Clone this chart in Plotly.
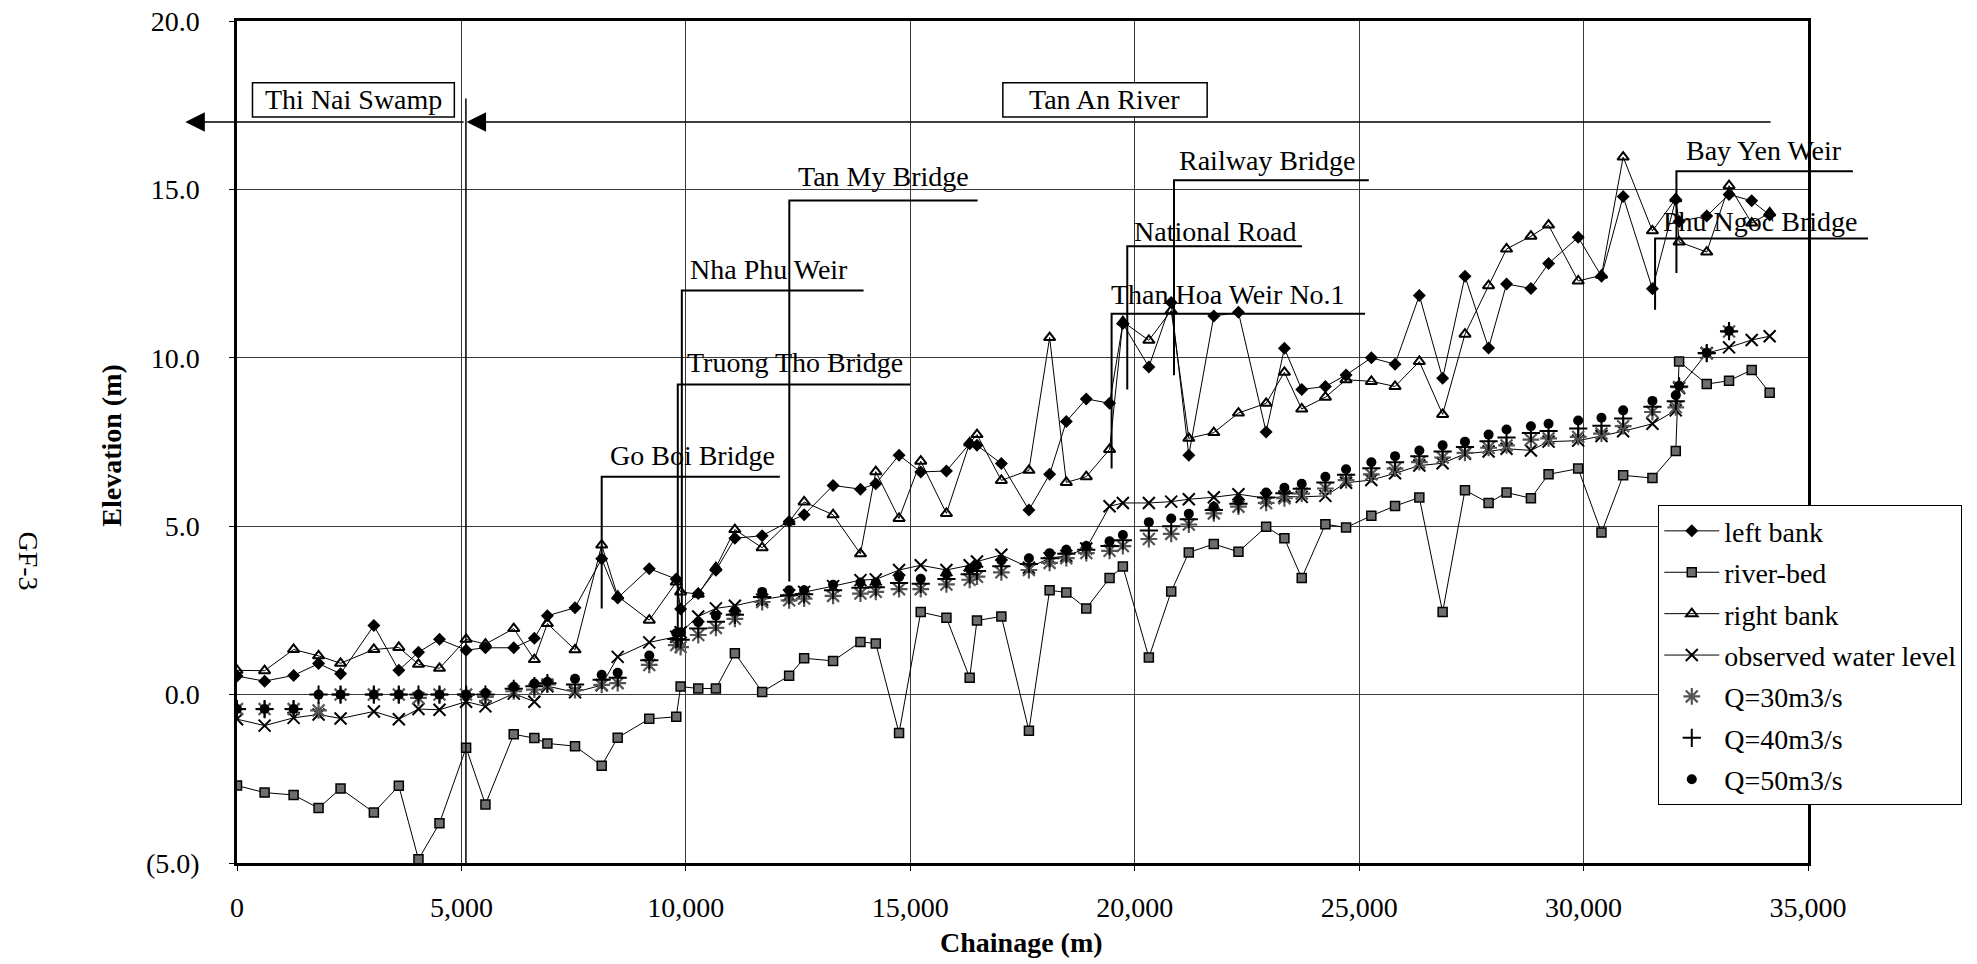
import plotly.graph_objects as go

# ---------------- data ----------------
chainage = [0, 615, 1261, 1817, 2307, 3049, 3605, 4043, 4511, 5104, 5535, 6165, 6625, 6915,
            7531, 8125, 8481, 9185, 9786, 9883, 10276, 10669, 11092, 11700, 12301, 12635,
            13280, 13890, 14231, 14750, 15233, 15805, 16323, 16486, 17029, 17643, 18104,
            18476, 18921, 19440, 19736, 20315, 20813, 21205, 21762, 22311, 22928, 23335,
            23721, 24248, 24709, 25272, 25800, 26341, 26860, 27358, 27884, 28284, 28827,
            29220, 29880, 30399, 30882, 31534, 32054, 32128, 32744, 33241, 33746, 34146]

left_bank = [0.55, 0.40, 0.57, 0.92, 0.62, 2.05, 0.72, 1.26, 1.64, 1.32,
             1.39, 1.39, 1.67, 2.34, 2.58, 4.03, 2.87, 3.74, 3.43, 2.54,
             3.00, 3.69, 4.64, 4.72, 5.14, 5.34, 6.21, 6.10, 6.26, 7.11,
             6.61, 6.64, 7.45, 7.40, 6.86, 5.48, 6.54, 8.11, 8.78, 8.65,
             11.02, 9.73, 11.64, 7.11, 11.24, 11.35, 7.80, 10.28, 9.06, 9.15,
             9.49, 10.00, 9.81, 11.85, 9.39, 12.42, 10.29, 12.19, 12.06, 12.80,
             13.58, 12.42, 14.79, 12.05, 14.70, 14.05, 14.21, 14.85, 14.66, 14.24]

river_bed = [-2.70, -2.91, -2.98, -3.37, -2.79, -3.50, -2.71, -4.89, -3.82, -1.58,
             -3.26, -1.18, -1.29, -1.45, -1.53, -2.11, -1.28, -0.72, -0.66, 0.24,
             0.18, 0.18, 1.23, 0.08, 0.56, 1.08, 1.00, 1.56, 1.52, -1.14,
             2.45, 2.28, 0.50, 2.20, 2.32, -1.07, 3.10, 3.03, 2.56, 3.46,
             3.80, 1.10, 3.06, 4.22, 4.47, 4.24, 4.98, 4.64, 3.46, 5.06,
             4.96, 5.31, 5.60, 5.85, 2.45, 6.07, 5.69, 6.00, 5.83, 6.54,
             6.71, 4.81, 6.51, 6.43, 7.23, 9.89, 9.22, 9.32, 9.64, 8.96]

right_bank = [0.72, 0.71, 1.34, 1.15, 0.93, 1.34, 1.40, 0.90, 0.78, 1.64,
              1.50, 1.96, 1.04, 2.11, 1.33, 4.44, 2.92, 2.21, 3.34, 3.05,
              2.98, 3.77, 4.90, 4.36, 5.13, 5.72, 5.34, 4.18, 6.62, 5.23,
              6.93, 5.38, 7.47, 7.72, 6.36, 6.66, 10.60, 6.30, 6.47, 7.28,
              11.07, 10.52, 11.40, 7.61, 7.78, 8.36, 8.65, 9.57, 8.48, 8.83,
              9.35, 9.30, 9.15, 9.89, 8.32, 10.70, 12.14, 13.23, 13.61, 13.94,
              12.28, 12.45, 15.96, 13.77, 14.72, 13.44, 13.14, 15.11, 14.00, 14.30]

observed = [-0.73, -0.92, -0.69, -0.59, -0.71, -0.50, -0.73, -0.43, -0.45, -0.21,
            -0.35, 0.03, -0.21, 0.25, 0.07, 0.28, 1.12, 1.55, 1.72, 1.85,
            2.32, 2.56, 2.64, 2.82, 2.95, 3.05, 3.22, 3.40, 3.42, 3.70,
            3.84, 3.70, 3.84, 3.95, 4.15, 3.77, 4.05, 4.12, 4.34, 5.59,
            5.69, 5.69, 5.73, 5.80, 5.86, 5.95, 5.83, 5.88, 5.87, 5.90,
            6.29, 6.37, 6.57, 6.80, 6.87, 7.15, 7.22, 7.30, 7.25, 7.51,
            7.54, 7.68, 7.82, 8.04, 8.44, 9.10, 10.14, 10.31, 10.53, 10.64]

q30 = [-0.43, -0.43, -0.43, -0.47, 0.00, 0.00, 0.00, -0.10, 0.00, 0.00,
       -0.07, 0.10, 0.15, 0.30, 0.13, 0.29, 0.34, 0.88, 1.47, 1.41,
       1.77, 1.98, 2.25, 2.75, 2.80, 2.85, 2.93, 3.00, 3.05, 3.13,
       3.13, 3.27, 3.41, 3.50, 3.63, 3.70, 3.91, 4.05, 4.20, 4.27,
       4.41, 4.62, 4.77, 5.05, 5.38, 5.58, 5.69, 5.83, 5.97, 6.12,
       6.37, 6.54, 6.71, 6.90, 7.04, 7.18, 7.33, 7.40, 7.57, 7.61,
       7.65, 7.75, 7.97, 8.39, 8.53, 9.13, 10.13, 10.78, None, None]

q40 = [-0.43, -0.43, -0.43, 0.00, 0.00, 0.00, 0.00, 0.00, 0.00, 0.00,
       0.00, 0.17, 0.25, 0.34, 0.30, 0.44, 0.50, 1.02, 1.65, 1.63,
       1.96, 2.16, 2.37, 2.90, 2.95, 2.98, 3.10, 3.17, 3.19, 3.31,
       3.29, 3.43, 3.57, 3.67, 3.81, 3.88, 4.05, 4.18, 4.30, 4.41,
       4.58, 4.87, 5.00, 5.21, 5.48, 5.67, 5.85, 5.98, 6.11, 6.30,
       6.53, 6.72, 6.90, 7.08, 7.22, 7.35, 7.52, 7.63, 7.77, 7.83,
       7.90, 7.98, 8.20, 8.55, 8.71, 9.15, 10.14, 10.79, None, None]

q50 = [-0.43, -0.43, -0.43, 0.00, 0.00, 0.00, 0.00, 0.00, 0.00, 0.00,
       0.05, 0.23, 0.33, 0.38, 0.47, 0.59, 0.65, 1.16, 1.82, 1.85,
       2.15, 2.34, 2.49, 3.05, 3.10, 3.10, 3.26, 3.33, 3.33, 3.49,
       3.44, 3.58, 3.73, 3.84, 3.98, 4.05, 4.20, 4.30, 4.41, 4.55,
       4.74, 5.12, 5.23, 5.37, 5.58, 5.76, 6.00, 6.14, 6.26, 6.47,
       6.69, 6.90, 7.08, 7.25, 7.40, 7.51, 7.72, 7.87, 7.97, 8.04,
       8.14, 8.22, 8.44, 8.72, 8.89, 9.17, 10.15, 10.80, None, None]

x_tick_vals = [0, 5000, 10000, 15000, 20000, 25000, 30000, 35000]
x_tick_text = ["0", "5,000", "10,000", "15,000", "20,000", "25,000", "30,000", "35,000"]
y_tick_vals = [-5, 0, 5, 10, 15, 20]
y_tick_text = ["(5.0)", "0.0", "5.0", "10.0", "15.0", "20.0"]

# structure labels: text, x of leader, bottom y, top y (label line), right end x, text left x, text y
structures = [
    ("Go Boi Bridge",      8125,  2.56,  6.47, 12094,  8265,  7.11),
    ("Truong Tho Bridge",  9820,  1.40,  9.21, 15000,  9975,  9.85),
    ("Nha Phu Weir",       9910,  1.50, 12.00, 13960, 10045, 12.62),
    ("Tan My Bridge",     12305,  3.36, 14.67, 16500, 12450, 15.37),
    ("Than Hoa Weir No.1", 19485, 6.71, 11.31, 25131, 19432, 11.89),
    ("National Road",     19834,  9.06, 13.31, 23726, 19937, 13.76),
    ("Railway Bridge",    20875,  9.48, 15.27, 25216, 20948, 15.86),
    ("Phu Ngoc Bridge",   31593, 11.43, 13.54, 36337, 31727, 14.06),
    ("Bay Yen Weir",      32069, 12.52, 15.54, 36000, 32232, 16.16),
]
# reach labels: text, box x0, box x1, box y0, box y1
reaches = [("Thi Nai Swamp", 345, 4842, 17.15, 18.17),
           ("Tan An River", 17062, 21614, 17.15, 18.17)]
reach_arrows = [(-1151, 5082, 17.0), (5115, 34200, 17.0)]   # tip x, tail x, y
reach_boundary = (5100, 17.7)

# ---------------- layout geometry ----------------
W, H = 1977, 964
ML, MR, MT, MB = 237, 169, 21, 101
X_RANGE = [0, 35000]
Y_RANGE = [-5, 20]
FONT = "Liberation Serif"
PLOT_W = W - ML - MR


def xp(x):
    return (x - X_RANGE[0]) / (X_RANGE[1] - X_RANGE[0])


fig = go.Figure()

line_style = dict(color="black", width=1)
traces = [
    dict(y=left_bank, name="left bank", mode="lines+markers",
         marker=dict(symbol="diamond", size=10, color="black")),
    dict(y=river_bed, name="river-bed", mode="lines+markers",
         marker=dict(symbol="square", size=9, color="#6e6e6e",
                     line=dict(color="black", width=1.5))),
    dict(y=right_bank, name="right bank", mode="lines+markers",
         marker=dict(symbol="triangle-up-open", size=10, color="black",
                     line=dict(color="black", width=2))),
    dict(y=observed, name="observed water level", mode="lines+markers",
         marker=dict(symbol="x-thin-open", size=12, color="black",
                     line=dict(color="black", width=2))),
    dict(y=q30, name="Q=30m3/s", mode="markers",
         marker=dict(symbol="asterisk-open", size=14, color="#555555",
                     line=dict(color="#555555", width=2.2))),
    dict(y=q40, name="Q=40m3/s", mode="markers",
         marker=dict(symbol="cross-thin-open", size=13, color="black",
                     line=dict(color="black", width=2))),
    dict(y=q50, name="Q=50m3/s", mode="markers",
         marker=dict(symbol="circle", size=10, color="black")),
]
for i, t in enumerate(traces):
    fig.add_trace(go.Scatter(x=chainage, line=line_style, legendgroup=f"g{i}", **t))

shapes = []
annotations = []
lead = dict(color="black", width=2)
for name, xv, yb, yt, xr, tx, ty in structures:
    shapes.append(dict(type="path", xref="paper", yref="y",
                       path=f"M {xp(xv)},{yb} L {xp(xv)},{yt} L {xp(xr)},{yt}",
                       line=lead))
    annotations.append(dict(text=name, xref="paper", yref="y", x=xp(tx), y=ty,
                            xanchor="left", yanchor="middle", showarrow=False,
                            font=dict(family=FONT, size=28, color="black")))

bx, btop = reach_boundary
shapes.append(dict(type="line", xref="paper", yref="y", x0=xp(bx), x1=xp(bx),
                   y0=Y_RANGE[0], y1=btop, line=dict(color="black", width=1.5)))

for tip, tail, yy in reach_arrows:
    annotations.append(dict(text="", xref="paper", yref="y", x=xp(tip), y=yy,
                            axref="pixel", ayref="pixel",
                            ax=(tail - tip) / (X_RANGE[1] - X_RANGE[0]) * PLOT_W, ay=0,
                            showarrow=True, arrowhead=2, arrowsize=2.6, arrowwidth=1.5,
                            arrowcolor="black"))

for name, x0, x1, y0, y1 in reaches:
    shapes.append(dict(type="rect", xref="paper", yref="y", x0=xp(x0), x1=xp(x1),
                       y0=y0, y1=y1, fillcolor="white",
                       line=dict(color="black", width=1.5)))
    annotations.append(dict(text=name, xref="paper", yref="y", x=xp((x0 + x1) / 2),
                            y=(y0 + y1) / 2, xanchor="center", yanchor="middle",
                            showarrow=False,
                            font=dict(family=FONT, size=28, color="black")))

# axis titles and side label
annotations.append(dict(text="<b>Elevation (m)</b>", xref="paper", yref="paper",
                        x=-0.080, y=0.496, textangle=-90, showarrow=False,
                        xanchor="center", yanchor="middle",
                        font=dict(family=FONT, size=28, color="black")))
annotations.append(dict(text="<b>Chainage (m)</b>", xref="paper", yref="paper",
                        x=0.4993, y=-0.0944, showarrow=False,
                        xanchor="center", yanchor="middle",
                        font=dict(family=FONT, size=28, color="black")))
annotations.append(dict(text="GF-3", xref="paper", yref="paper",
                        x=-0.1330, y=0.3593, textangle=90, showarrow=False,
                        xanchor="center", yanchor="middle",
                        font=dict(family=FONT, size=28, color="black")))

axis_common = dict(showline=True, mirror=True, linecolor="black", linewidth=2.5,
                   showgrid=True, gridcolor="#3a3a3a", gridwidth=1, zeroline=False,
                   ticks="outside", ticklen=5, tickcolor="black", automargin=False,
                   ticklabeloverflow="allow",
                   tickfont=dict(family=FONT, size=28, color="black"))

fig.update_layout(
    width=W, height=H,
    margin=dict(l=ML, r=MR, t=MT, b=MB, autoexpand=False),
    paper_bgcolor="white", plot_bgcolor="white",
    font=dict(family=FONT, size=28, color="black"),
    xaxis=dict(range=X_RANGE, tickvals=x_tick_vals, ticktext=x_tick_text,
               ticklabelstandoff=13, **axis_common),
    yaxis=dict(range=Y_RANGE, tickvals=y_tick_vals, ticktext=y_tick_text,
               ticklabelstandoff=24, **axis_common),
    legend=dict(x=0.9047, y=0.425, xanchor="left", yanchor="top",
                bgcolor="white", bordercolor="black", borderwidth=1,
                font=dict(family=FONT, size=28, color="black"),
                itemwidth=55, tracegroupgap=2),
    shapes=shapes,
    annotations=annotations,
    showlegend=True,
)

# remove the browser's default 8px page margin so the figure fills the window exactly
fig.write_html("out.html", config={"displayModeBar": False},
               post_script="document.body.style.margin='0px';")
